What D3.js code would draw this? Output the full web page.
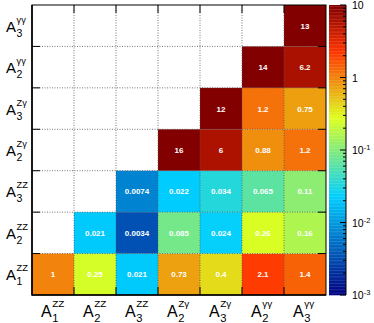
<!DOCTYPE html>
<html>
<head>
<meta charset="utf-8">
<script src="https://cdn.jsdelivr.net/npm/d3@7"></script>
<style>
  body { margin: 0; background: #fff; }
  svg { display: block; font-family: "Liberation Sans", Arial, sans-serif; }
</style>
</head>
<body>
<div id="main"></div>
<script>
// axis labels: A_{sub}^{sup}
const subs = ["1", "2", "3", "2", "3", "2", "3"];
const sups = ["ZZ", "ZZ", "ZZ", "Z\u03b3", "Z\u03b3", "\u03b3\u03b3", "\u03b3\u03b3"];

// one array per row, bottom row first; null = empty cell
const rowA1ZZ = [1, 0.25, 0.021, 0.73, 0.4, 2.1, 1.4];
const rowA2ZZ = [null, 0.021, 0.0034, 0.085, 0.024, 0.26, 0.16];
const rowA3ZZ = [null, null, 0.0074, 0.022, 0.034, 0.065, 0.11];
const rowA2Zg = [null, null, null, 16, 6, 0.88, 1.2];
const rowA3Zg = [null, null, null, null, 12, 1.2, 0.75];
const rowA2gg = [null, null, null, null, null, 14, 6.2];
const rowA3gg = [null, null, null, null, null, null, 13];

const rows = [rowA1ZZ, rowA2ZZ, rowA3ZZ, rowA2Zg, rowA3Zg, rowA2gg, rowA3gg];

// colour axis
const zMin = 1e-3, zMax = 10;
const cbLabels = [[10, "10", ""], [1, "1", ""], [0.1, "10", "-1"], [0.01, "10", "-2"], [0.001, "10", "-3"]];

const w = 374, h = 323;
const x0 = 32, x1 = 326, y0 = 5, y1 = 295;

const svg = d3.select("#main").append("svg").attr("width", w).attr("height", h);

const n = subs.length;
const xScale = d3.scaleBand().domain(d3.range(n)).range([x0, x1]);
const yScale = d3.scaleBand().domain(d3.range(n)).range([y1, y0]);

const norm = d3.scaleLog().domain([zMin, zMax]).range([0, 1]).clamp(true);
const palette = d3.scaleLinear()
  .domain([0, 0.34, 0.61, 0.84, 1])
  .range(["rgb(0,0,130)", "rgb(0,207,255)", "rgb(222,255,31)", "rgb(255,51,0)", "rgb(130,0,0)"]);
const colour = v => palette(norm(v));

const cells = [];
rows.forEach((r, j) => r.forEach((v, i) => { if (v != null) cells.push({ i: i, j: j, v: v }); }));

// cells
svg.selectAll("rect.cell")
  .data(cells)
  .enter()
  .append("rect")
  .attr("class", "cell")
  .attr("x", d => xScale(d.i))
  .attr("y", d => yScale(d.j))
  .attr("width", xScale.bandwidth())
  .attr("height", yScale.bandwidth())
  .attr("fill", d => colour(d.v));

// grid
const grid = svg.append("g")
  .attr("stroke", "#555").attr("stroke-width", 0.8).attr("stroke-dasharray", "1,1.5");
d3.range(1, n).forEach(k => {
  const gx = xScale(k), gy = yScale(k) + yScale.bandwidth();
  grid.append("line").attr("x1", gx).attr("x2", gx).attr("y1", y0).attr("y2", y1);
  grid.append("line").attr("x1", x0).attr("x2", x1).attr("y1", gy).attr("y2", gy);
});

// cell values
svg.selectAll("text.val")
  .data(cells)
  .enter()
  .append("text")
  .attr("class", "val")
  .attr("x", d => xScale(d.i) + xScale.bandwidth() / 2)
  .attr("y", d => yScale(d.j) + yScale.bandwidth() / 2 + 3)
  .attr("text-anchor", "middle")
  .attr("fill", "#fff")
  .style("font-size", "8px")
  .style("font-weight", "bold")
  .text(d => String(d.v));

// frame + ticks
const frame = svg.append("g").attr("stroke", "#000").attr("fill", "none");
frame.append("rect").attr("x", x0).attr("y", y0).attr("width", x1 - x0).attr("height", y1 - y0).attr("stroke-width", 1);
frame.append("line").attr("x1", x0).attr("x2", x0).attr("y1", y0).attr("y2", y1 + 0.5).attr("stroke-width", 1.6);
frame.append("line").attr("x1", x0).attr("x2", x1).attr("y1", y1).attr("y2", y1).attr("stroke-width", 1.6);
d3.range(1, n).forEach(k => {
  const gx = xScale(k), gy = yScale(k) + yScale.bandwidth();
  frame.append("line").attr("x1", gx).attr("x2", gx).attr("y1", y1).attr("y2", y1 - 8);
  frame.append("line").attr("x1", gx).attr("x2", gx).attr("y1", y0).attr("y2", y0 + 8);
  frame.append("line").attr("x1", x0).attr("x2", x0 + 8).attr("y1", gy).attr("y2", gy);
  frame.append("line").attr("x1", x1).attr("x2", x1 - 8).attr("y1", gy).attr("y2", gy);
});

// axis labels
function label(g, x, y, sub, sup, size) {
  g.append("text").attr("x", x).attr("y", y).style("font-size", size + "px").text("A");
  const aw = size * 0.667;
  g.append("text").attr("x", x + aw + 0.5).attr("y", y + size * 0.33)
    .style("font-size", (size * 0.7) + "px").text(sub);
  g.append("text").attr("x", x + aw + 0.5).attr("y", y - size * 0.6)
    .style("font-size", (size * 0.62) + "px").text(sup);
}
const lab = svg.append("g").attr("fill", "#000");
subs.forEach((s, k) => {
  label(lab, xScale(k) + xScale.bandwidth() / 2 - 12, 317, s, sups[k], 16);
  label(lab, 6, yScale(k) + yScale.bandwidth() / 2 + 6, s, sups[k], 15);
});

// colour bar
const cbX0 = 329, cbX1 = 346;
const cbScale = d3.scaleLog().domain([zMin, zMax]).range([y1, y0]);
const steps = 200;
const stepH = (y1 - y0) / steps;
svg.append("g").selectAll("rect")
  .data(d3.range(steps))
  .enter()
  .append("rect")
  .attr("x", cbX0)
  .attr("y", k => y1 - (k + 1) * stepH)
  .attr("width", cbX1 - cbX0)
  .attr("height", stepH + 0.3)
  .attr("fill", k => palette((k + 0.5) / steps));

const cb = svg.append("g").attr("stroke", "#000");
cb.append("line").attr("x1", cbX1).attr("x2", cbX1).attr("y1", y0).attr("y2", y1);
cbScale.ticks().forEach(t => {
  const major = Math.abs(Math.log10(t) - Math.round(Math.log10(t))) < 1e-9;
  const ty = cbScale(t);
  cb.append("line").attr("x1", cbX1).attr("x2", cbX1 - (major ? 6 : 3)).attr("y1", ty).attr("y2", ty);
});

cbLabels.forEach(d => {
  const t = svg.append("text")
    .attr("x", 352)
    .attr("y", cbScale(d[0]) + 4)
    .style("font-size", "10.5px")
    .text(d[1]);
  if (d[2]) t.append("tspan").attr("dy", -4).style("font-size", "7.5px").text(d[2]);
});
</script>
</body>
</html>
